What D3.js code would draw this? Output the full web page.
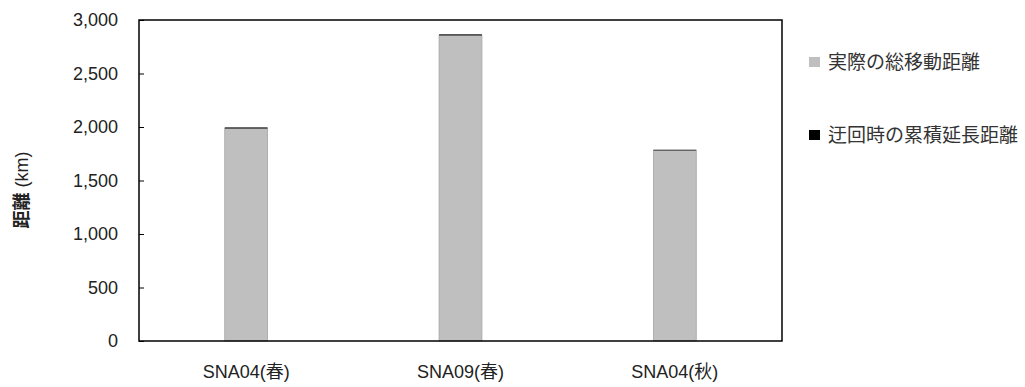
<!DOCTYPE html>
<html>
<head>
<meta charset="utf-8">
<script src="https://cdn.jsdelivr.net/npm/d3@7"></script>
<style>
  body { margin: 0; background: #fff; }
  text { font-family: "Liberation Sans", Arial, "Noto Sans CJK JP", sans-serif; }
</style>
</head>
<body>
<div id="chart"></div>
<script>
// chart data
var categories = ["SNA04(春)", "SNA09(春)", "SNA04(秋)"];
var actualDistance = [1985, 2855, 1780];   // 実際の総移動距離
var detourExtra = [12, 12, 8];             // 迂回時の累積延長距離
var seriesNames = ["実際の総移動距離", "迂回時の累積延長距離"];
var yTicks = [0, 500, 1000, 1500, 2000, 2500, 3000];

var width = 1025, height = 387;
var margin = { top: 20, right: 243, bottom: 46, left: 139 };
var plotW = width - margin.left - margin.right;
var plotH = height - margin.top - margin.bottom;

var svg = d3.select("#chart").append("svg")
  .attr("width", width)
  .attr("height", height);

var g = svg.append("g")
  .attr("transform", "translate(" + margin.left + "," + margin.top + ")");

var x = d3.scaleBand().domain(categories).range([0, plotW]).paddingInner(0.8).paddingOuter(0.4);
var y = d3.scaleLinear().domain([0, 3000]).range([plotH, 0]);

// stacked data
var stackData = categories.map(function (c, i) {
  return { cat: c, a: actualDistance[i], b: detourExtra[i] };
});

// gray bars
g.selectAll(".barA")
  .data(stackData)
  .enter().append("rect")
  .attr("class", "barA")
  .attr("x", function (d) { return x(d.cat); })
  .attr("y", function (d) { return y(d.a); })
  .attr("width", x.bandwidth())
  .attr("height", function (d) { return y(0) - y(d.a); })
  .attr("fill", "#bfbfbf")
  .attr("stroke", "#a6a6a6")
  .attr("stroke-width", 0.8);

// black detour segment on top
g.selectAll(".barB")
  .data(stackData)
  .enter().append("rect")
  .attr("class", "barB")
  .attr("x", function (d) { return x(d.cat); })
  .attr("y", function (d) { return y(d.a + d.b); })
  .attr("width", x.bandwidth())
  .attr("height", function (d) { return y(d.a) - y(d.a + d.b); })
  .attr("fill", "#262626");

// frame
g.append("rect")
  .attr("x", 0).attr("y", 0)
  .attr("width", plotW).attr("height", plotH)
  .attr("fill", "none")
  .attr("stroke", "#000")
  .attr("stroke-width", 1.5);

// y axis
var yAxis = g.append("g")
  .call(d3.axisLeft(y).tickValues(yTicks).tickFormat(d3.format(",")).tickSizeInner(-5).tickSizeOuter(0).tickPadding(21));
yAxis.select(".domain").remove();
yAxis.selectAll(".tick line").attr("stroke", "#000").attr("stroke-width", 1);
yAxis.selectAll("text").attr("font-size", 18).attr("fill", "#222");

// x axis labels
var xAxis = g.append("g")
  .attr("transform", "translate(0," + plotH + ")")
  .call(d3.axisBottom(x).tickSize(0).tickPadding(24));
xAxis.select(".domain").remove();
xAxis.selectAll("text").attr("font-size", 18).attr("fill", "#222");

// y axis title
svg.append("text")
  .attr("transform", "translate(28,190) rotate(-90)")
  .attr("text-anchor", "middle")
  .attr("font-size", 18)
  .attr("fill", "#222")
  .html('<tspan font-weight="bold" font-family="Noto Sans CJK JP">距離</tspan> (km)');

// legend
var legendColors = ["#bfbfbf", "#000"];
var legendY = [62, 135];
var legend = svg.selectAll(".legend")
  .data(seriesNames)
  .enter().append("g")
  .attr("class", "legend")
  .attr("transform", function (d, i) { return "translate(809," + legendY[i] + ")"; });

legend.append("rect")
  .attr("x", 0).attr("y", -5)
  .attr("width", 11).attr("height", 10)
  .attr("fill", function (d, i) { return legendColors[i]; });

legend.append("text")
  .attr("x", 19).attr("y", 0)
  .attr("dy", "0.35em")
  .attr("font-size", 19)
  .attr("fill", "#333")
  .attr("font-family", "Noto Sans CJK JP")
  .text(function (d) { return d; });
</script>
</body>
</html>
